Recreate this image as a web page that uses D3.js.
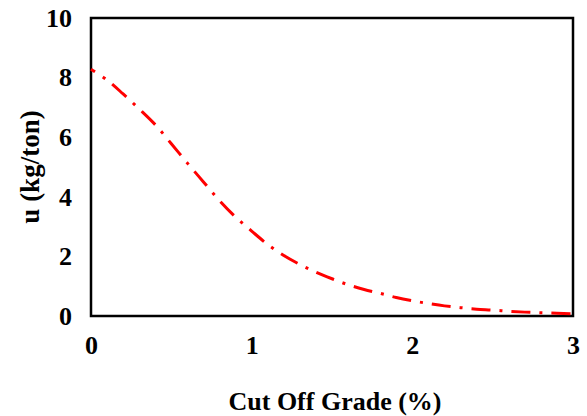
<!DOCTYPE html>
<html><head><meta charset="utf-8">
<script src="https://cdn.jsdelivr.net/npm/d3@7"></script>
<style>body{margin:0;background:#fff}svg{display:block}</style>
</head><body>
<script>
const grades = [0,0.1,0.2,0.3,0.4,0.5,0.6,0.7,0.8,0.9,1.0,1.1,1.2,1.3,1.4,1.5,1.6,1.7,1.8,1.9,2.0,2.1,2.2,2.3,2.4,2.5,2.6,2.7,2.8,2.9,3.0];
const uValues = [8.28,7.92,7.45,6.95,6.42,5.78,5.13,4.5,3.87,3.32,2.85,2.4,2.03,1.73,1.47,1.25,1.05,0.89,0.76,0.62,0.51,0.42,0.34,0.28,0.23,0.2,0.16,0.13,0.11,0.09,0.07];
const xTicks = [0,1,2,3];
const yTicks = [0,2,4,6,8,10];
const xTitle = "Cut Off Grade (%)";
const yTitle = "u (kg/ton)";

const W = 587, H = 416;
const m = {left:91, right:14, top:18, bottom:100};
const svg = d3.select("body").append("svg").attr("width",W).attr("height",H);
const x = d3.scaleLinear().domain([0,3]).range([m.left, W-m.right]);
const y = d3.scaleLinear().domain([0,10]).range([H-m.bottom, m.top]);
const font = "'Liberation Serif','Times New Roman',serif";

// frame
svg.append("rect").attr("x",x(0)).attr("y",y(10)).attr("width",x(3)-x(0)).attr("height",y(0)-y(10))
  .attr("fill","none").attr("stroke","#000").attr("stroke-width",2.5);

// x axis
const xa = svg.append("g").attr("transform",`translate(0,${y(0)})`)
  .call(d3.axisBottom(x).tickValues(xTicks).tickSize(0).tickPadding(20).tickFormat(d3.format("d")));
xa.select(".domain").remove();
xa.selectAll("text").attr("font-family",font).attr("font-weight","bold").attr("font-size",26).attr("fill","#000");

const ya = svg.append("g").attr("transform",`translate(${x(0)},0)`)
  .call(d3.axisLeft(y).tickValues(yTicks).tickSize(0).tickPadding(19).tickFormat(d3.format("d")));
ya.select(".domain").remove();
ya.selectAll("text").attr("font-family",font).attr("font-weight","bold").attr("font-size",26).attr("fill","#000");

// line
const line = d3.line().x((d,i)=>x(grades[i])).y(d=>y(d)).curve(d3.curveCatmullRom.alpha(0.5));
svg.append("path").datum(uValues).attr("d",line).attr("fill","none")
  .attr("stroke","#ff0000").attr("stroke-width",3)
  .attr("stroke-dasharray","19,9,3,9").attr("stroke-dashoffset",14);

// titles
svg.append("text").attr("x",(x(0)+x(3))/2 + 3).attr("y",410).attr("text-anchor","middle")
  .attr("font-family",font).attr("font-weight","bold").attr("font-size",26).text(xTitle);
svg.append("text").attr("transform",`translate(39,${(y(0)+y(10))/2}) rotate(-90)`).attr("text-anchor","middle")
  .attr("font-family",font).attr("font-weight","bold").attr("font-size",27).text(yTitle);
</script>
</body></html>
